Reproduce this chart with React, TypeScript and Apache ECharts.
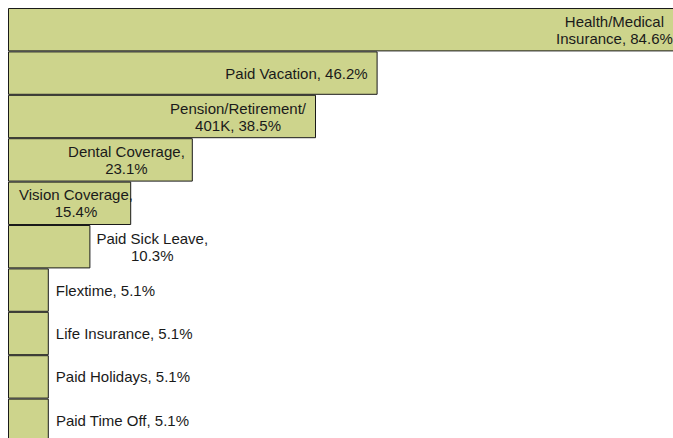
import React, { useEffect, useRef } from "react";
import * as echarts from "echarts";

// Categories (a "\n" marks where the label breaks inside the name)
const categories = [
  "Health/Medical\nInsurance",
  "Paid Vacation",
  "Pension/Retirement/\n401K",
  "Dental Coverage",
  "Vision Coverage",
  "Paid Sick Leave",
  "Flextime",
  "Life Insurance",
  "Paid Holidays",
  "Paid Time Off",
];

// Percent of respondents
const values = [84.6, 46.2, 38.5, 23.1, 15.4, 10.3, 5.1, 5.1, 5.1, 5.1];

// Whether the value goes on its own line in the label
const breakBeforeValue = [false, false, false, true, true, true, false, false, false, false];

// Label placement relative to the bar
const labelPositions = [
  "insideRight",
  "insideRight",
  "insideRight",
  "insideRight",
  "insideLeft",
  "right",
  "right",
  "right",
  "right",
  "right",
];
const labelDistances = [12, 10, 10, 8, 11, 6, 7, 7, 7, 7];

export default function App() {
  const ref = useRef<HTMLDivElement>(null);

  useEffect(() => {
    if (!ref.current) return;
    const chart = echarts.init(ref.current, undefined, { renderer: "svg" });

    const data = values.map((v, i) => ({
      value: v,
      label: {
        position: labelPositions[i] as any,
        distance: labelDistances[i],
      },
    }));

    chart.setOption({
      animation: false,
      grid: {
        left: 8,
        top: 8,
        right: -135,
        bottom: -4,
        outerBoundsMode: "none",
        containLabel: false,
      },
      xAxis: {
        type: "value",
        min: 0,
        max: 100,
        show: false,
      },
      yAxis: {
        type: "category",
        data: categories,
        inverse: true,
        show: false,
      },
      series: [
        {
          type: "bar",
          data,
          barWidth: "100%",
          barCategoryGap: 0,
          clip: false,
          itemStyle: {
            color: "#cdd48c",
            borderColor: "#1a1a1a",
            borderWidth: 1,
          },
          label: {
            show: true,
            fontFamily: "Liberation Sans, Arial, sans-serif",
            fontSize: 15,
            lineHeight: 17,
            color: "#1a1a1a",
            formatter: (p: any) => {
              const i = p.dataIndex;
              const text =
                categories[i] + "," + (breakBeforeValue[i] ? "\n" : " ") + values[i].toFixed(1) + "%";
              return text
                .split("\n")
                .map((l) => "{c|" + l + "}")
                .join("\n");
            },
            rich: {
              c: {
                align: "center",
                fontFamily: "Liberation Sans, Arial, sans-serif",
                fontSize: 15,
                lineHeight: 17,
                color: "#1a1a1a",
              },
            },
          },
        },
      ],
    });

    return () => chart.dispose();
  }, []);

  return (
    <div
      ref={ref}
      style={{ position: "fixed", left: 0, top: 0, width: 673, height: 438, background: "#fff" }}
    />
  );
}
